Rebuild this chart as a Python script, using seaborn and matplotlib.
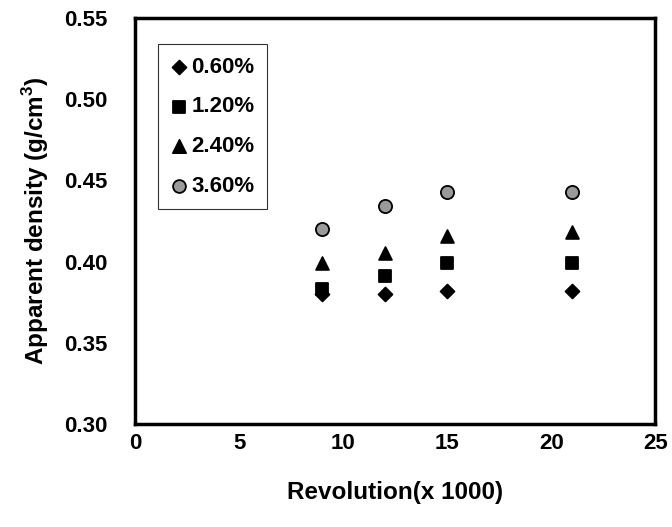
import matplotlib
matplotlib.use("Agg")
import matplotlib.pyplot as plt
import seaborn as sns
import pandas as pd

revolution = [9, 12, 15, 21]
series_names = ["0.60%", "1.20%", "2.40%", "3.60%"]
d060 = [0.380, 0.380, 0.382, 0.382]
d120 = [0.383, 0.391, 0.399, 0.399]
d240 = [0.399, 0.4055, 0.416, 0.418]
d360 = [0.420, 0.434, 0.443, 0.443]
x_ticks = [0, 5, 10, 15, 20, 25]
y_ticks = [0.30, 0.35, 0.40, 0.45, 0.50, 0.55]

sns.set_style("white")
plt.rcParams['font.family'] = ['Liberation Sans', 'DejaVu Sans']
plt.rcParams['font.weight'] = 'bold'
plt.rcParams['text.color'] = 'black'
plt.rcParams['axes.labelcolor'] = 'black'
plt.rcParams['xtick.color'] = 'black'
plt.rcParams['ytick.color'] = 'black'
plt.rcParams['mathtext.fontset'] = 'custom'
plt.rcParams['mathtext.bf'] = 'Liberation Sans:bold'
plt.rcParams['mathtext.rm'] = 'Liberation Sans:bold'

rows = []
for name, vals in zip(series_names, [d060, d120, d240, d360]):
    for x, v in zip(revolution, vals):
        rows.append({"rev": x, "density": v, "series": name})
df = pd.DataFrame(rows)

fig = plt.figure(figsize=(6.72, 5.27), dpi=100)
ax = fig.add_axes([0.201, 0.195, 0.774, 0.771])

markers = {"0.60%": "D", "1.20%": "s", "2.40%": "^", "3.60%": "o"}
sizes = {"0.60%": 50, "1.20%": 80, "2.40%": 85, "3.60%": 90}
leg_sizes = {"0.60%": 50, "1.20%": 65, "2.40%": 90, "3.60%": 85}
faces = {"0.60%": "black", "1.20%": "black", "2.40%": "black", "3.60%": "#9a9a9a"}
for name in series_names:
    sub = df[df["series"] == name]
    sns.scatterplot(data=sub, x="rev", y="density", marker=markers[name],
                    s=sizes[name], color=faces[name], edgecolor="black",
                    linewidth=1.3, ax=ax, label=name)

ax.set_xlim(0, 25)
ax.set_ylim(0.30, 0.55)
ax.set_xticks(x_ticks)
ax.set_yticks(y_ticks)
ax.set_xticklabels([str(t) for t in x_ticks], fontsize=16, fontweight='bold')
ax.set_yticklabels([f"{t:.2f}" for t in y_ticks], fontsize=16, fontweight='bold')
ax.tick_params(axis='both', direction='in', length=4, width=1.5)
ax.tick_params(axis='y', pad=20)
ax.tick_params(axis='x', pad=6)
for sp in ax.spines.values():
    sp.set_linewidth(2.5)
    sp.set_color("black")
    sp.set_visible(True)

ax.set_xlabel("Revolution(x 1000)", fontsize=17.5, fontweight='bold', labelpad=20)
ax.set_ylabel("Apparent density (g/cm$^{\\mathbf{3}}$)", fontsize=17.5, fontweight='bold', labelpad=9)

leg = ax.legend(loc="upper left", bbox_to_anchor=(0.044, 0.935), frameon=True,
                fancybox=False, edgecolor="black", handletextpad=0.15,
                labelspacing=0.85, borderpad=0.55, handlelength=0.8,
                borderaxespad=0, prop={'weight': 'bold', 'size': 16})
leg.get_frame().set_linewidth(0.8)
for h, name in zip(leg.legend_handles, series_names):
    h.set_sizes([leg_sizes[name]])

fig.savefig("out.png", dpi=100)
